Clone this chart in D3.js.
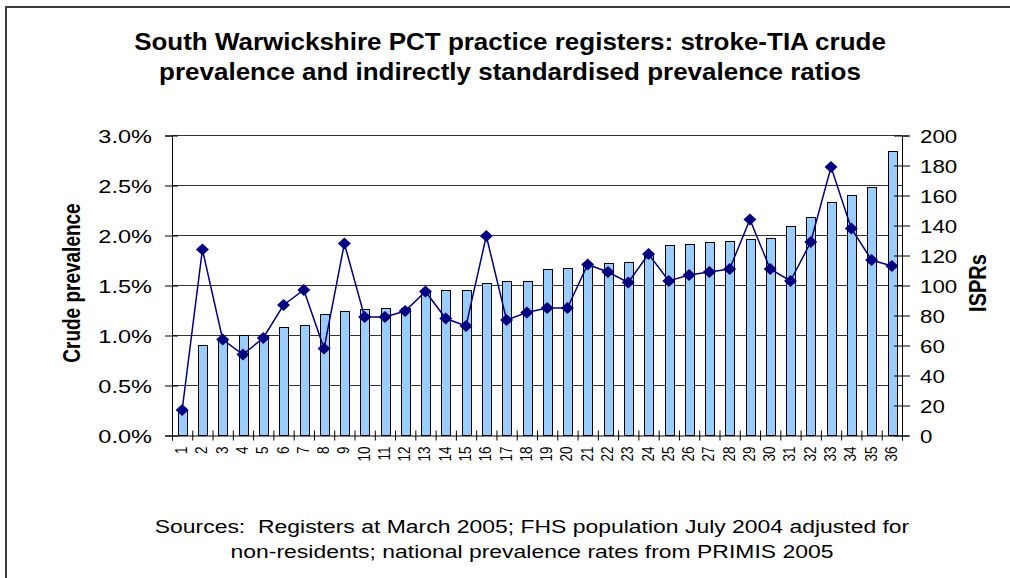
<!DOCTYPE html>
<html>
<head>
<meta charset="utf-8">
<script src="https://cdn.jsdelivr.net/npm/d3@7"></script>
<style>
  html, body { margin: 0; padding: 0; background: #fff; }
  svg { display: block; font-family: "Liberation Sans", Arial, sans-serif; }
  text { white-space: pre; }
</style>
</head>
<body>
<svg id="chart" width="1010" height="578"></svg>
<script>
// ---- data ----
const categories = ["1","2","3","4","5","6","7","8","9","10","11","12","13","14","15","16","17","18",
                    "19","20","21","22","23","24","25","26","27","28","29","30","31","32","33","34","35","36"];
const crudePrevalence = [0.25,0.90,0.97,1.00,1.00,1.08,1.10,1.21,1.24,1.26,1.27,1.27,1.43,1.45,1.45,1.52,1.54,1.54,
                         1.66,1.67,1.70,1.72,1.73,1.81,1.90,1.91,1.93,1.94,1.96,1.97,2.09,2.18,2.33,2.40,2.48,2.84];
const isprValues = [17,124,64,54,65,87,97,58,128,79,79,83,96,78,73,133,77,82,
                    85,85,114,109,102,121,103,107,109,111,144,111,103,129,179,138,117,113];
const leftTicks = [0,0.5,1.0,1.5,2.0,2.5,3.0];
const rightTicks = [0,20,40,60,80,100,120,140,160,180,200];
const titleLines = ["South Warwickshire PCT practice registers: stroke-TIA crude",
                    "prevalence and indirectly standardised prevalence ratios"];
const sourceLines = ["Sources:  Registers at March 2005; FHS population July 2004 adjusted for",
                     "non-residents; national prevalence rates from PRIMIS 2005"];
const leftTitle = "Crude prevalence";
const rightTitle = "ISPRs";

// ---- layout ----
const SX = 1.24; // horizontal stretch of the reference
const L = 172, R = 902, T = 135.5, B = 435.5;
const svg = d3.select("#chart");

svg.append("rect").attr("x", 0).attr("y", 0).attr("width", 1010).attr("height", 578).attr("fill", "#fff");
svg.append("rect").attr("x", 6).attr("y", 7).attr("width", 1100).attr("height", 700)
  .attr("fill", "none").attr("stroke", "#3a3a3a").attr("stroke-width", 2);

function stext(parent, x, y, str, size, anchor, weight, rot, sx) {
  return parent.append("text")
    .attr("transform", `translate(${x},${y}) scale(${sx || SX},1)` + (rot ? ` rotate(${rot})` : ""))
    .attr("text-anchor", anchor).attr("font-size", size).attr("font-weight", weight || "normal")
    .attr("fill", "#000").text(str);
}

// title
titleLines.forEach((t, i) => stext(svg, 510, 50 + i * 30, t, 23, "middle", "bold", null, 1.13));
// sources
sourceLines.forEach((t, i) => stext(svg, 532, 533 + i * 25, t, 18.5, "middle"));

// scales
const x = d3.scaleBand().domain(categories).range([L, R]).paddingInner(0.58).paddingOuter(0.29);
const xb = d3.scaleLinear().domain([0, categories.length]).range([L, R]);
const y = d3.scaleLinear().domain([0, 3.0]).range([B, T]);
const y2 = d3.scaleLinear().domain([0, 200]).range([B, T]);

// gridlines
svg.append("g").selectAll("line").data(leftTicks.filter(d => d > 0)).join("line")
  .attr("x1", L).attr("x2", R).attr("y1", d => y(d)).attr("y2", d => y(d))
  .attr("stroke", "#333").attr("stroke-width", 1);

// bars
svg.append("g").selectAll("rect").data(categories).join("rect")
  .attr("x", d => Math.round(x(d)) + 0.5)
  .attr("y", (d, i) => y(crudePrevalence[i]))
  .attr("width", Math.round(x.bandwidth()))
  .attr("height", (d, i) => B - y(crudePrevalence[i]))
  .attr("fill", "#99ccff").attr("stroke", "#000").attr("stroke-width", 1);

// left axis
const gL = svg.append("g").attr("transform", `translate(${L},0)`)
  .call(d3.axisLeft(y).tickValues(leftTicks).tickFormat(d => d.toFixed(1) + "%").tickSize(7));
gL.select(".domain").attr("stroke", "#000");
gL.selectAll(".tick line").attr("x1", -7).attr("x2", 6).attr("stroke", "#000");
gL.selectAll(".tick text").attr("x", null).attr("dy", null)
  .attr("transform", `translate(-20,7) scale(${SX},1)`)
  .attr("font-size", 19).attr("font-family", "Liberation Sans, Arial, sans-serif").attr("fill", "#000");

// right axis
const gR = svg.append("g").attr("transform", `translate(${R},0)`)
  .call(d3.axisRight(y2).tickValues(rightTicks).tickSize(7));
gR.select(".domain").attr("stroke", "#000");
gR.selectAll(".tick line").attr("x1", -8).attr("x2", 8).attr("stroke", "#000");
gR.selectAll(".tick text").attr("x", null).attr("dy", null)
  .attr("transform", `translate(18,6.5) scale(${SX},1)`)
  .attr("font-size", 18).attr("font-family", "Liberation Sans, Arial, sans-serif").attr("fill", "#000");

// bottom axis (ticks at category boundaries)
const gB = svg.append("g").attr("transform", `translate(0,${B})`)
  .call(d3.axisBottom(xb).tickValues(d3.range(categories.length + 1)).tickFormat("").tickSize(5));
gB.select(".domain").attr("stroke", "#000");
gB.selectAll(".tick line").attr("y1", -5).attr("y2", 5).attr("stroke", "#000");

// category labels
const gC = svg.append("g").attr("transform", `translate(0,${B})`)
  .call(d3.axisBottom(x).tickSize(0).tickPadding(0));
gC.select(".domain").remove();
gC.selectAll(".tick text").attr("y", null).attr("dy", null)
  .attr("transform", `translate(5,11) scale(${SX},1) rotate(-90)`)
  .attr("text-anchor", "end")
  .attr("font-size", 13.5).attr("font-family", "Liberation Sans, Arial, sans-serif").attr("fill", "#000");

// ISPR line
const cx = d => x(d) + x.bandwidth() / 2;
const line = d3.line().x((d, i) => cx(categories[i])).y(d => y2(d));
svg.append("path").datum(isprValues).attr("d", line)
  .attr("fill", "none").attr("stroke", "#000080").attr("stroke-width", 1.5);
svg.append("g").selectAll("path").data(isprValues).join("path")
  .attr("transform", (d, i) => `translate(${cx(categories[i])},${y2(d)})`)
  .attr("d", "M0,-6L6.5,0L0,6L-6.5,0Z")
  .attr("fill", "#000080");

// axis titles
stext(svg, 80, 283, leftTitle, 19, "middle", "bold", -90);
stext(svg, 986, 283, rightTitle, 20, "middle", "bold", -90);
</script>
</body>
</html>
